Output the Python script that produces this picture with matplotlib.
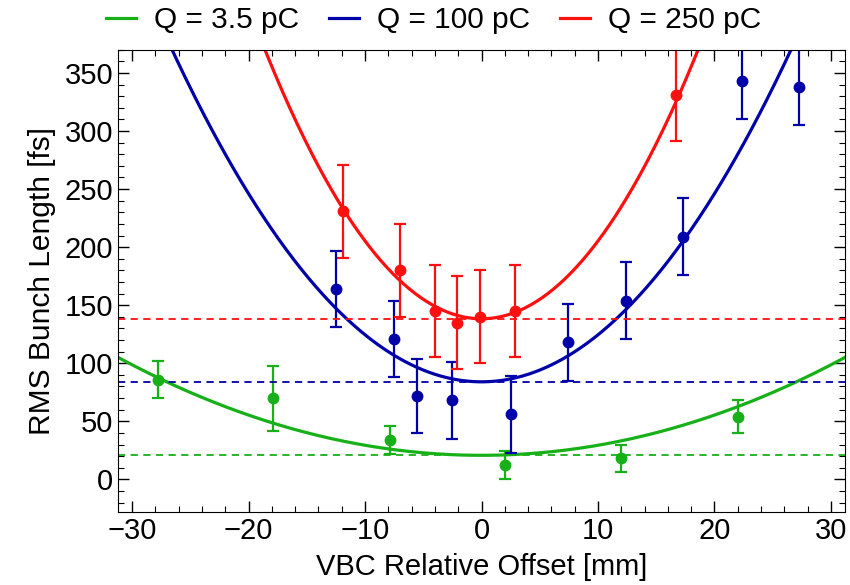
import matplotlib
matplotlib.use("Agg")
import matplotlib.pyplot as plt
import numpy as np
from matplotlib.ticker import MultipleLocator

plt.rcParams['font.family'] = ['Liberation Sans Narrow', 'Liberation Sans', 'DejaVu Sans']

# measured points (x offset [mm], bunch length [fs], error [fs])
x_35 = [-27.8, -17.9, -7.9, 2.0, 12.0, 22.0]
y_35 = [86, 70, 34, 12, 18, 54]
e_35 = [16, 28, 12, 12, 12, 14]

x_100 = [-12.5, -7.5, -5.5, -2.5, 2.5, 7.4, 12.4, 17.3, 22.4, 27.3]
y_100 = [164, 121, 72, 68, 56, 118, 154, 209, 343, 338]
e_100 = [33, 33, 32, 33, 33, 33, 33, 33, 33, 33]

x_250 = [-11.9, -7.0, -4.0, -2.1, -0.1, 2.9, 16.7]
y_250 = [231, 180, 145, 135, 140, 145, 331]
e_250 = [40, 40, 40, 40, 40, 40, 40]

# parabolic fits: minimum and curvature
fit_min = [20.7, 84, 138.3]
fit_curv = [0.0866, 0.405, 0.67]

labels = ['Q = 3.5 pC', 'Q = 100 pC', 'Q = 250 pC']
colors = ['#18b018', '#0000a8', '#ff1010']

fig = plt.figure(figsize=(8.5, 5.85), dpi=100)
ax = fig.add_axes([0.139, 0.125, 0.855, 0.79])

xx = np.linspace(-32, 32, 400)
datasets = [(x_35, y_35, e_35), (x_100, y_100, e_100), (x_250, y_250, e_250)]
for (xs, ys, es), m, c, col, lab in zip(datasets, fit_min, fit_curv, colors, labels):
    ax.plot(xx, m + c * xx**2, color=col, lw=2.3, label=lab)
    ax.axhline(m, color=col, lw=1.3, ls=(0, (4, 3)))
    ax.errorbar(xs, ys, yerr=es, fmt='o', color=col, ms=7.5, elinewidth=1.6,
                capsize=4.5, capthick=1.6)

ax.set_xlim(-31.2, 31.2)
ax.set_ylim(-28, 370)
ax.xaxis.set_major_locator(MultipleLocator(10))
ax.xaxis.set_minor_locator(MultipleLocator(2))
ax.yaxis.set_major_locator(MultipleLocator(50))
ax.yaxis.set_minor_locator(MultipleLocator(10))
ax.tick_params(which='both', direction='in', top=True, right=True, labelsize=21)
ax.tick_params(which='major', length=8, width=1)
ax.tick_params(which='minor', length=4, width=0.8)

ax.set_xlabel('VBC Relative Offset [mm]', fontsize=21, labelpad=6)
ax.set_ylabel('RMS Bunch Length [fs]', fontsize=21.5, labelpad=6)

fig.legend(*ax.get_legend_handles_labels(), loc='center', bbox_to_anchor=(0.51, 0.965),
           ncol=3, frameon=False, fontsize=21.5, handlelength=1.0, columnspacing=1.0,
           handletextpad=0.6)

fig.savefig('out.png', dpi=100)
